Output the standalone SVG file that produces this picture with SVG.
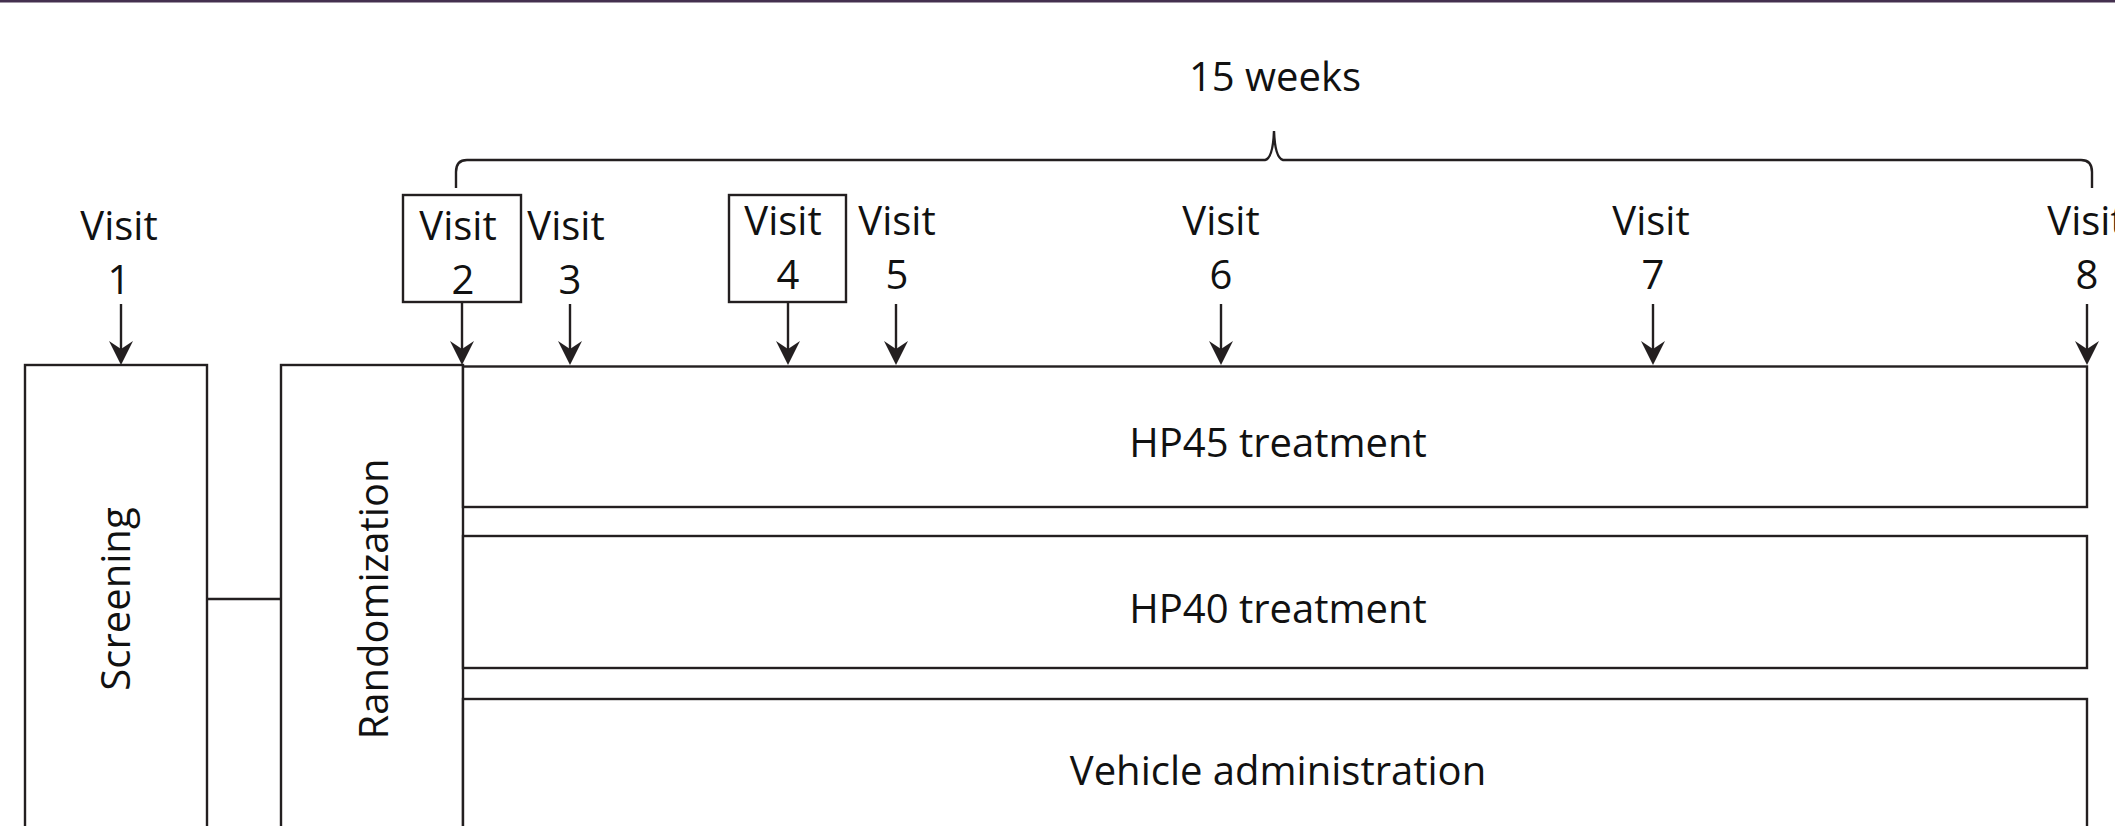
<svg xmlns="http://www.w3.org/2000/svg" width="2115" height="826" viewBox="0 0 2115 826">
  <style>
    .box { fill: #ffffff; stroke: #231f20; stroke-width: 2.4; }
    .ln { fill: none; stroke: #231f20; stroke-width: 2.4; }
    .t { font-family: "Open Sans", "Liberation Sans", sans-serif; font-size: 40px; fill: #111111; text-anchor: middle; }
  </style>
  <defs>
    <marker id="ah" viewBox="0 0 24 24" refX="14" refY="12" markerWidth="24" markerHeight="24" markerUnits="userSpaceOnUse" orient="auto">
      <path d="M0,0 L24,12 L0,24 L8,12 Z" fill="#231f20"/>
    </marker>
  </defs>
  <rect x="0" y="0" width="2115" height="2.5" fill="#44304f"/>

  <g id="brace">
    <path class="ln" d="M456,188 L456,172 Q456,160 467,160 L1265,160 Q1273,158 1274,131 Q1275,158 1283,160 L2081,160 Q2092,160 2092,172 L2092,188"/>
    <text class="t" x="1275" y="91">15 weeks</text>
  </g>

  <g id="screening">
    <rect class="box" x="25" y="365" width="182" height="480"/>
    <text class="t" transform="translate(130,599) rotate(-90)">Screening</text>
  </g>
  <g id="randomization">
    <rect class="box" x="281" y="365" width="182" height="480"/>
    <text class="t" transform="translate(388,599) rotate(-90)">Randomization</text>
  </g>
  <g id="hp45">
    <rect class="box" x="463" y="366.5" width="1624" height="140.5"/>
    <text class="t" x="1278" y="457">HP45 treatment</text>
  </g>
  <g id="hp40">
    <rect class="box" x="463" y="536" width="1624" height="132"/>
    <text class="t" x="1278" y="623">HP40 treatment</text>
  </g>
  <g id="vehicle">
    <rect class="box" x="463" y="699" width="1624" height="160"/>
    <text class="t" x="1278" y="785">Vehicle administration</text>
  </g>

  <g id="visit1">
    <text class="t" x="119" y="240">Visit</text>
    <text class="t" x="119" y="294">1</text>
  </g>
  <g id="visit2">
    <rect class="box" x="403" y="195" width="118" height="107"/>
    <text class="t" x="458" y="240">Visit</text>
    <text class="t" x="463" y="294">2</text>
  </g>
  <g id="visit3">
    <text class="t" x="566" y="240">Visit</text>
    <text class="t" x="570" y="294">3</text>
  </g>
  <g id="visit4">
    <rect class="box" x="729" y="195" width="117" height="107"/>
    <text class="t" x="783" y="235">Visit</text>
    <text class="t" x="788" y="289">4</text>
  </g>
  <g id="visit5">
    <text class="t" x="897" y="235">Visit</text>
    <text class="t" x="897" y="289">5</text>
  </g>
  <g id="visit6">
    <text class="t" x="1221" y="235">Visit</text>
    <text class="t" x="1221" y="289">6</text>
  </g>
  <g id="visit7">
    <text class="t" x="1651" y="235">Visit</text>
    <text class="t" x="1653" y="289">7</text>
  </g>
  <g id="visit8">
    <text class="t" x="2086" y="235">Visit</text>
    <text class="t" x="2087" y="289">8</text>
  </g>

  <g id="connectors">
    <line class="ln" x1="207" y1="599" x2="281" y2="599"/>
    <line class="ln" x1="121" y1="304" x2="121" y2="355" marker-end="url(#ah)"/>
    <line class="ln" x1="462" y1="302" x2="462" y2="355" marker-end="url(#ah)"/>
    <line class="ln" x1="570" y1="304" x2="570" y2="355" marker-end="url(#ah)"/>
    <line class="ln" x1="788" y1="302" x2="788" y2="355" marker-end="url(#ah)"/>
    <line class="ln" x1="896" y1="304" x2="896" y2="355" marker-end="url(#ah)"/>
    <line class="ln" x1="1221" y1="304" x2="1221" y2="355" marker-end="url(#ah)"/>
    <line class="ln" x1="1653" y1="304" x2="1653" y2="355" marker-end="url(#ah)"/>
    <line class="ln" x1="2087" y1="304" x2="2087" y2="355" marker-end="url(#ah)"/>
  </g>
</svg>
